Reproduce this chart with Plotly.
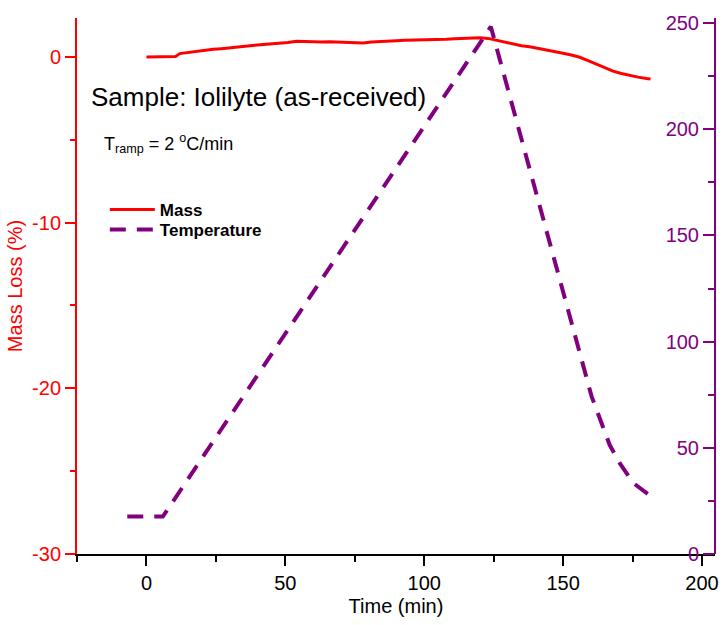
import plotly.graph_objects as go

FONT = "Liberation Sans, Arial, sans-serif"
RED = "#ff0000"
PURPLE = "#800080"

# Mass loss (%) vs time (min)
mass_time = [0, 3, 6, 9, 10.5, 12, 15, 18, 21, 24, 27, 30, 33, 36, 39, 42, 45, 48, 51, 54,
             57, 60, 63, 66, 69, 72, 75, 78, 81, 84, 87, 90, 93, 96, 99, 102, 105, 108, 111,
             114, 117, 120, 123, 126, 129, 132, 135, 138, 141, 144, 147, 150, 153, 156, 159,
             162, 165, 168, 171, 174, 177, 180, 181.5]
mass_loss = [0.00, 0.00, 0.00, 0.01, 0.03, 0.20, 0.27, 0.34, 0.39, 0.46, 0.50, 0.56, 0.60, 0.67,
             0.70, 0.75, 0.78, 0.85, 0.87, 0.95, 0.93, 0.93, 0.90, 0.92, 0.90, 0.89, 0.86, 0.84,
             0.90, 0.94, 0.96, 0.98, 1.00, 1.01, 1.03, 1.02, 1.05, 1.07, 1.10, 1.12, 1.15, 1.16,
             1.12, 1.00, 0.88, 0.79, 0.68, 0.61, 0.52, 0.44, 0.33, 0.22, 0.12, -0.02, -0.22,
             -0.45, -0.68, -0.86, -1.00, -1.12, -1.22, -1.30, -1.33]

# Temperature (deg C) vs time (min)
temp_time = [-6.9, 5.9, 124.0, 146.7, 155.0, 160.3, 166.8, 170.4, 175.3, 181.0]
temperature = [17.6, 17.6, 248.3, 138.4, 99.3, 74.1, 51.3, 42.8, 33.4, 27.8]

# Tick labels
x_ticks = [0, 50, 100, 150, 200]
x_ticktext = ["0", "50", "100", "150", "200"]
mass_ticks = [-30, -20, -10, 0]
mass_ticktext = ["-30", "-20", "-10", "0"]
temp_ticks = [0, 50, 100, 150, 200, 250]
temp_ticktext = ["0", "50", "100", "150", "200", "250"]

# plot area in pixels (for placing free text)
L, R, T, B = 77, 8, 18, 71
W, H = 727, 625
PW, PH = W - L - R, H - T - B


def px(x):
    return (x - L) / PW


def py(y):
    return (H - B - y) / PH


fig = go.Figure()
fig.add_trace(go.Scatter(x=mass_time, y=mass_loss, name="Mass", mode="lines",
                         line=dict(color=RED, width=3), yaxis="y", legend="legend"))
fig.add_trace(go.Scatter(x=temp_time, y=temperature, name="Temperature", mode="lines",
                         line=dict(color=PURPLE, width=4, dash="16px,11px"), yaxis="y2",
                         legend="legend2"))

legend_font = dict(family=FONT, size=17, color="black", weight="bold")

fig.update_layout(
    width=W, height=H,
    margin=dict(l=L, r=R, t=T, b=B),
    plot_bgcolor="white", paper_bgcolor="white",
    font=dict(family=FONT, size=20, color="black"),
    showlegend=True,
    legend=dict(x=px(105), y=py(192), xanchor="left", yanchor="top",
                bgcolor="rgba(0,0,0,0)", itemwidth=45, font=legend_font),
    legend2=dict(x=px(105), y=py(212), xanchor="left", yanchor="top",
                 bgcolor="rgba(0,0,0,0)", itemwidth=45, font=legend_font),
    xaxis=dict(range=[-25, 204.7], showgrid=False, zeroline=False,
               showline=True, linecolor="black", linewidth=2,
               ticks="outside", ticklen=10, tickwidth=2, tickcolor="black",
               tickmode="array", tickvals=x_ticks, ticktext=x_ticktext,
               tickfont=dict(family=FONT, size=20, color="black"),
               minor=dict(dtick=25, tick0=0, ticks="outside", ticklen=6, tickwidth=2,
                          tickcolor="black"),
               title=dict(text="Time (min)", font=dict(family=FONT, size=20, color="black"),
                          standoff=6)),
    yaxis=dict(range=[-30, 2.35], showgrid=False, zeroline=False,
               showline=True, linecolor=RED, linewidth=2,
               ticks="outside", ticklen=10, tickwidth=2, tickcolor=RED,
               tickmode="array", tickvals=mass_ticks, ticktext=mass_ticktext,
               tickfont=dict(family=FONT, size=20, color=RED),
               minor=dict(dtick=5, tick0=0, ticks="outside", ticklen=5, tickwidth=2,
                          tickcolor=RED),
               title=dict(text="Mass Loss (%)", font=dict(family=FONT, size=20, color=RED),
                          standoff=4)),
    yaxis2=dict(range=[0, 252.4], overlaying="y", side="left", anchor="free", position=1,
                showgrid=False, zeroline=False,
                showline=True, linecolor=PURPLE, linewidth=2,
                ticks="outside", ticklen=11, tickwidth=2, tickcolor=PURPLE,
                tickmode="array", tickvals=temp_ticks, ticktext=temp_ticktext,
                tickfont=dict(family=FONT, size=20, color=PURPLE),
                minor=dict(dtick=25, tick0=0, ticks="outside", ticklen=6, tickwidth=2,
                           tickcolor=PURPLE)),
    annotations=[
        dict(text="Sample: Iolilyte (as-received)", xref="paper", yref="paper",
             x=px(89), y=py(97), xanchor="left", yanchor="middle",
             showarrow=False, font=dict(family=FONT, size=26, color="black")),
        dict(text="T<sub>ramp</sub> = 2 <sup>o</sup>C/min", xref="paper", yref="paper",
             x=px(102), y=py(143), xanchor="left", yanchor="middle",
             showarrow=False, font=dict(family=FONT, size=18, color="black")),
    ],
)

fig.write_html("out.html")
